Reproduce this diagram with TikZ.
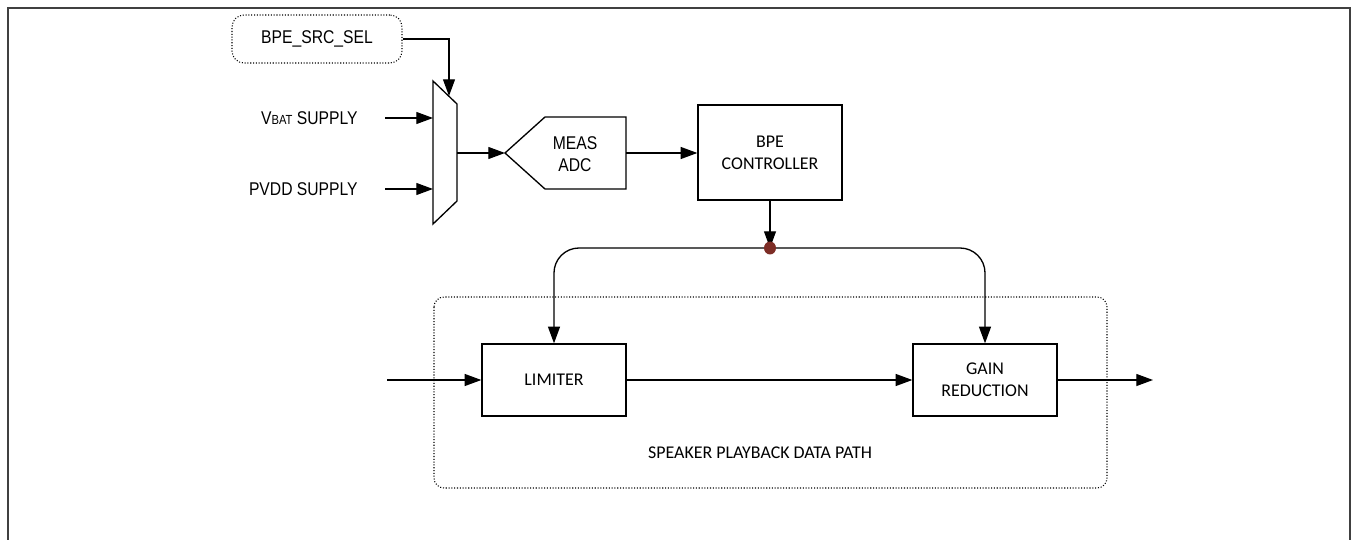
\documentclass[tikz,border=0pt]{standalone}
\usepackage{fontspec}
\setmainfont{Carlito}
\newfontfamily\arialn[FakeStretch=0.85]{Liberation Sans}
\usetikzlibrary{arrows.meta,positioning,calc}

\tikzset{
  sig/.style={line width=0.75pt, -{Triangle[length=9.5pt,width=6.8pt]}},
  blockbox/.style={draw, line width=0.75pt, minimum width=2.88cm, align=center,
    font=\fontsize{10.2}{12.5}\selectfont},
  lbl/.style={font=\arialn\fontsize{10.5}{12.5}\selectfont, inner sep=0pt}
}

\begin{document}
\begin{tikzpicture}[x=0.02cm, y=-0.02cm]
\useasboundingbox (0,0) rectangle (1351,540);

% Outer frame
\draw[line width=0.8pt, black!75] (8,8) rectangle (1350,600);

% Source select register
\node[draw, densely dotted, line width=0.6pt, rounded corners=0.24cm,
  minimum width=3.4cm, minimum height=0.96cm, lbl] (srcsel) at (317,39) {BPE\_SRC\_SEL};

% Mux
\draw[line width=0.75pt] (433,81) -- (457,104) -- (457,201) -- (433,224) -- cycle;
\coordinate (muxsel) at (449,96);
\coordinate (muxa) at (433,118);
\coordinate (muxb) at (433,189);
\coordinate (muxout) at (457,153);

% Supply labels
\node[lbl, anchor=east] (vbat) at (358,118) {V{\fontsize{7.5}{8}\selectfont BAT} SUPPLY};
\node[lbl, anchor=east] (pvdd) at (358,189) {PVDD SUPPLY};

% Measurement ADC
\draw[line width=0.75pt] (505,153) -- (545,117) -- (626,117) -- (626,189) -- (545,189) -- cycle;
\coordinate (adcin) at (505,153);
\coordinate (adcout) at (626,153);
\node[lbl, align=center] (adc) at (575,154) {MEAS\\ADC};

% BPE controller
\node[blockbox, minimum height=1.9cm] (ctrl) at (770,152.5) {BPE\\CONTROLLER};
\coordinate (jn) at (770,248);

% Data path blocks
\draw[densely dotted, line width=0.6pt, rounded corners=0.2cm] (434,297) rectangle (1107,488);
\node[blockbox, minimum height=1.44cm] (lim) at (554,380) {LIMITER};
\node[blockbox, minimum height=1.44cm] (gain) at (985,380) {GAIN\\REDUCTION};
\node[font=\fontsize{10.2}{12.5}\selectfont] (path) at (760,453) {SPEAKER PLAYBACK DATA PATH};
\coordinate (datain) at (387,380);
\coordinate (dataout) at (1153,380);

% Connections
\draw[sig] (srcsel.east) -| (muxsel);
\draw[sig] ([xshift=0.54cm]vbat.east) -- (muxa);
\draw[sig] ([xshift=0.54cm]pvdd.east) -- (muxb);
\draw[sig] (muxout) -- (adcin);
\draw[sig] (adcout) -- (adcout -| ctrl.west);
\draw[sig] (ctrl.south) -- (jn);
\draw[sig, rounded corners=0.5cm] (jn) -| (lim.north);
\draw[sig, rounded corners=0.5cm] (jn) -| (gain.north);
\draw[sig] (datain) -- (lim.west);
\draw[sig] (lim.east) -- (gain.west);
\draw[sig] (gain.east) -- (dataout);

% Junction dot
\fill[fill={rgb,255:red,125;green,45;blue,38}] (jn) ellipse (0.12cm and 0.13cm);

\end{tikzpicture}
\end{document}
